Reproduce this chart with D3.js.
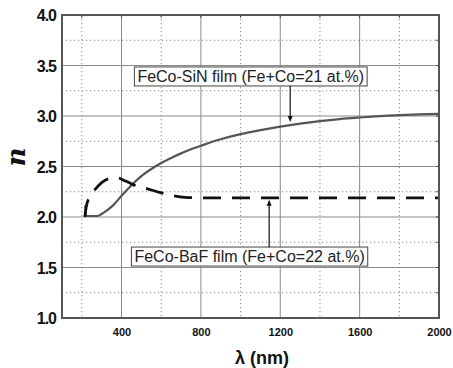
<!DOCTYPE html>
<html><head><meta charset="utf-8">
<script src="https://cdn.jsdelivr.net/npm/d3@7/dist/d3.min.js"></script>
<style>
body{margin:0;background:#fff;}
svg{display:block;font-family:"Liberation Sans",Arial,sans-serif;}
</style></head>
<body>
<svg id="c" width="453" height="368"></svg>
<script>
// ---- data ----
const lambdaSiN = [218, 220, 240, 280, 300, 330, 360, 400, 450, 500, 550, 600, 650, 700, 750, 800, 850, 900, 1000, 1100, 1200, 1300, 1400, 1500, 1600, 1700, 1800, 1900, 2000];
const nSiN      = [2.12, 2.01, 2.01, 2.01, 2.03, 2.07, 2.12, 2.21, 2.315, 2.405, 2.475, 2.535, 2.585, 2.63, 2.67, 2.705, 2.74, 2.77, 2.82, 2.86, 2.895, 2.925, 2.95, 2.97, 2.985, 2.998, 3.008, 3.016, 3.022];
const lambdaBaF = [215, 222, 240, 270, 300, 340, 380, 420, 470, 520, 580, 650, 720, 800, 1000, 1200, 1400, 1600, 1800, 2000];
const nBaF      = [2.0, 2.1, 2.2, 2.28, 2.34, 2.38, 2.386, 2.356, 2.31, 2.285, 2.25, 2.215, 2.195, 2.19, 2.19, 2.19, 2.19, 2.19, 2.19, 2.19];
const xTicks = [400, 800, 1200, 1600, 2000];
const xMinorTicks = [200, 600, 1000, 1400, 1800];
const yTicks = [1.0, 1.5, 2.0, 2.5, 3.0, 3.5, 4.0];
const yMinorTicks = [1.25, 1.75, 2.25, 2.75, 3.25, 3.75];
const annoLabels = ["FeCo-SiN film (Fe+Co=21 at.%)", "FeCo-BaF film (Fe+Co=22 at.%)"];
const annoTextLambda = [480, 465];
const annoTextN = [3.337, 1.554];
const arrowLambda = [1250, 1144];
const arrowFromN = [3.30, 1.70];
const arrowToN = [2.94, 2.17];

// ---- layout ----
const svg = d3.select("#c");
const L = 62, R = 439, T = 15, B = 318;
const x = d3.scaleLinear().domain([100, 2000]).range([L, R]);
const y = d3.scaleLinear().domain([1, 4]).range([B, T]);

const g = svg.append("g");
// minor dotted grid
g.selectAll(".vx").data(xMinorTicks).enter().append("line")
  .attr("x1", d => x(d)).attr("x2", d => x(d)).attr("y1", T).attr("y2", B)
  .attr("stroke", "#888").attr("stroke-width", 1).attr("stroke-dasharray", "1.2,2.8");
g.selectAll(".hy").data(yMinorTicks).enter().append("line")
  .attr("y1", d => y(d)).attr("y2", d => y(d)).attr("x1", L).attr("x2", R)
  .attr("stroke", "#888").attr("stroke-width", 1).attr("stroke-dasharray", "1.2,2.8");
// major solid grid
g.selectAll(".mx").data(xTicks.filter(d => d < 2000)).enter().append("line")
  .attr("x1", d => x(d)).attr("x2", d => x(d)).attr("y1", T).attr("y2", B)
  .attr("stroke", "#8a8a8a").attr("stroke-width", 1);
g.selectAll(".my").data(yTicks.filter(d => d > 1 && d < 4)).enter().append("line")
  .attr("y1", d => y(d)).attr("y2", d => y(d)).attr("x1", L).attr("x2", R)
  .attr("stroke", "#8a8a8a").attr("stroke-width", 1);

// axes (tick labels)
const xAxis = d3.axisBottom(x).tickValues(xTicks).tickSize(0).tickPadding(0).tickFormat(d3.format("d"));
const xa = svg.append("g").attr("transform", `translate(0,${B})`).call(xAxis);
xa.select(".domain").remove();
xa.selectAll("text").attr("y", 18).attr("dy", 0).attr("font-size", 11).attr("font-weight", "bold")
  .attr("font-family", "'Liberation Sans',Arial,sans-serif").attr("fill", "#111");

const yAxis = d3.axisLeft(y).tickValues(yTicks).tickSize(0).tickPadding(6).tickFormat(d3.format(".1f"));
const ya = svg.append("g").attr("transform", `translate(${L},0)`).call(yAxis);
ya.select(".domain").remove();
ya.selectAll("text").attr("font-size", 16).attr("font-weight", "bold").attr("letter-spacing", -1)
  .attr("font-family", "'Liberation Sans',Arial,sans-serif").attr("fill", "#111").attr("dy", "0.35em");

// small inward ticks on frame
const allX = xTicks.concat(xMinorTicks), allY = yTicks.concat(yMinorTicks);
g.selectAll(".tt").data(allX).enter().append("line")
  .attr("x1", d => x(d)).attr("x2", d => x(d)).attr("y1", T).attr("y2", T + 3).attr("stroke", "#444");
g.selectAll(".tr").data(allY).enter().append("line")
  .attr("y1", d => y(d)).attr("y2", d => y(d)).attr("x1", R).attr("x2", R - 3).attr("stroke", "#444");

// curves
const line = d3.line().x(d => x(d[0])).y(d => y(d[1])).curve(d3.curveMonotoneX);
svg.append("path").datum(lambdaSiN.map((l, i) => [l, nSiN[i]]))
  .attr("d", line).attr("fill", "none").attr("stroke", "#555").attr("stroke-width", 2.2);
svg.append("path").datum(lambdaBaF.map((l, i) => [l, nBaF[i]]))
  .attr("d", line).attr("fill", "none").attr("stroke", "#111").attr("stroke-width", 2.8)
  .attr("stroke-dasharray", "18,11");

// frame
svg.append("rect").attr("x", L).attr("y", T).attr("width", R - L).attr("height", B - T)
  .attr("fill", "none").attr("stroke", "#555").attr("stroke-width", 2);

// annotations
annoLabels.forEach((t, i) => {
  const ag = svg.append("g");
  const tx = ag.append("text").attr("x", x(annoTextLambda[i])).attr("y", y(annoTextN[i]))
    .attr("font-size", 16).attr("fill", "#222").text(t);
  const bb = tx.node().getBBox();
  ag.insert("rect", "text").attr("x", bb.x - 3).attr("y", bb.y - 1).attr("width", bb.width + 6).attr("height", bb.height + 2)
    .attr("fill", "#fff").attr("stroke", "#444").attr("stroke-width", 1);
  const ax = x(arrowLambda[i]), y0 = y(arrowFromN[i]), y1 = y(arrowToN[i]);
  const dir = y1 > y0 ? 1 : -1;
  svg.append("line").attr("x1", ax).attr("x2", ax).attr("y1", y0).attr("y2", y1 - dir * 4)
    .attr("stroke", "#111").attr("stroke-width", 1.2);
  svg.append("path").attr("d", `M${ax},${y1} L${ax - 2.5},${y1 - dir * 6} L${ax + 2.5},${y1 - dir * 6} Z`).attr("fill", "#111");
});

// axis titles
svg.append("text").attr("transform", "translate(25,157) rotate(-90)").attr("text-anchor", "middle")
  .attr("font-size", 26).attr("font-weight", "bold").attr("font-style", "italic")
  .attr("font-family", "'DejaVu Serif',serif").attr("fill", "#111").text("n");
svg.append("text").attr("x", 262).attr("y", 364).attr("text-anchor", "middle")
  .attr("font-size", 18).attr("font-weight", "bold").attr("fill", "#111").text("λ (nm)");
</script>
</body></html>
